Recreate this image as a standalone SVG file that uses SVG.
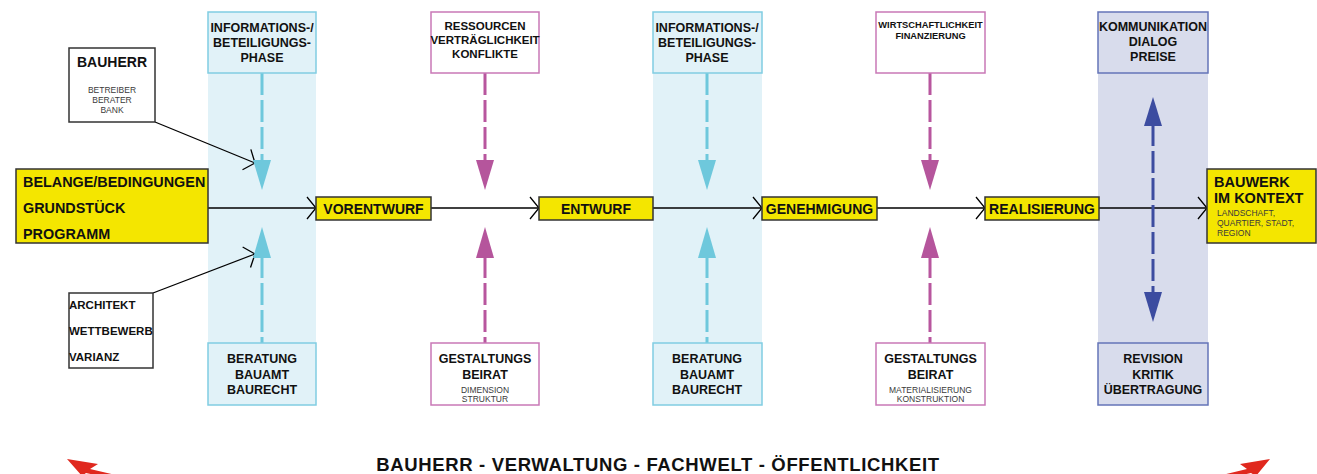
<svg xmlns="http://www.w3.org/2000/svg" width="1317" height="474" viewBox="0 0 1317 474">
<defs>
<style>
text{font-family:"Liberation Sans",Arial,sans-serif;fill:#111}
.b{font-weight:bold}
.c{text-anchor:middle}
.s{font-size:8.5px;fill:#3a3a3a}
.yel{fill:#f4e600;stroke:#333;stroke-width:1.5}
.wbox{fill:#fff;stroke:#333;stroke-width:1.5}
.cband{fill:#e1f2f8}
.cbox{fill:#e1f2f8;stroke:#80cde2;stroke-width:1.5}
.mbox{fill:#fff;stroke:#c978b6;stroke-width:1.5}
.bband{fill:#d8dcec}
.bbox{fill:#d8dcec;stroke:#6474b8;stroke-width:1.5}
.flow{stroke:#000;stroke-width:1.3;fill:none;marker-end:url(#chev)}
.dc{stroke:#6ec8dc;stroke-width:3;stroke-dasharray:22 5;fill:none}
.dm{stroke:#b8569e;stroke-width:3;stroke-dasharray:22 5;fill:none}
.db{stroke:#3c4ca0;stroke-width:3;stroke-dasharray:22 5;fill:none}
.hc{fill:#6ec8dc}
.hm{fill:#b5559c}
.hb{fill:#3c4ca0}
.red{fill:#e0281e}
</style>
<marker id="chev" markerUnits="userSpaceOnUse" markerWidth="24" markerHeight="26" refX="12" refY="13" orient="auto" overflow="visible">
<path d="M3,2 L12,13 L3,24" fill="none" stroke="#000" stroke-width="1.3"/>
</marker>
</defs>

<g id="bands">
<rect class="cband" x="208" y="12" width="108" height="393"/>
<rect class="cband" x="653" y="12" width="109" height="393"/>
<rect class="bband" x="1098" y="12" width="110" height="393"/>
</g>

<g id="connectors">
<path class="flow" d="M208,208 H316"/>
<path class="flow" d="M431,208 H539"/>
<path class="flow" d="M653,208 H762"/>
<path class="flow" d="M877,208 H985"/>
<path class="flow" d="M1099,208 H1207"/>
<path class="flow" d="M155,122 L255,163"/>
<path class="flow" d="M153,293 L255,254"/>

<path class="dc" d="M262,73 V162"/>
<polygon class="hc" points="253,160 271,160 262,190"/>
<path class="dc" d="M262,256 V343"/>
<polygon class="hc" points="253,258 271,258 262,227"/>

<path class="dm" d="M485,73 V162"/>
<polygon class="hm" points="476,160 494,160 485,190"/>
<path class="dm" d="M485,256 V343"/>
<polygon class="hm" points="476,258 494,258 485,227"/>

<path class="dc" d="M707,73 V162"/>
<polygon class="hc" points="698,160 716,160 707,190"/>
<path class="dc" d="M707,256 V343"/>
<polygon class="hc" points="698,258 716,258 707,227"/>

<path class="dm" d="M930,73 V162"/>
<polygon class="hm" points="921,160 939,160 930,190"/>
<path class="dm" d="M930,256 V343"/>
<polygon class="hm" points="921,258 939,258 930,227"/>

<path class="db" d="M1153,124 V294"/>
<polygon class="hb" points="1144,126 1162,126 1153,97"/>
<polygon class="hb" points="1144,292 1162,292 1153,322"/>
</g>

<g id="belange">
<rect class="yel" x="16" y="169" width="192" height="74"/>
<text class="b" x="23" y="187" font-size="14.4">BELANGE/BEDINGUNGEN</text>
<text class="b" x="23" y="213" font-size="14.4">GRUNDSTÜCK</text>
<text class="b" x="23" y="239" font-size="14.4">PROGRAMM</text>
</g>

<g id="bauherr">
<rect class="wbox" x="69" y="48" width="86" height="74"/>
<text class="b c" x="112" y="67" font-size="14">BAUHERR</text>
<text class="c s" x="112" y="93">BETREIBER</text>
<text class="c s" x="112" y="103">BERATER</text>
<text class="c s" x="112" y="113">BANK</text>
</g>

<g id="architekt">
<rect class="wbox" x="69" y="293" width="84" height="75"/>
<text class="b" x="69" y="309" font-size="11.5">ARCHITEKT</text>
<text class="b" x="69" y="335" font-size="11.5">WETTBEWERB</text>
<text class="b" x="69" y="361" font-size="11.5">VARIANZ</text>
</g>

<g id="info1">
<rect class="cbox" x="208" y="12" width="108" height="61"/>
<text class="b c" x="262" y="32" font-size="12.5">INFORMATIONS-/</text>
<text class="b c" x="262" y="47" font-size="12.5">BETEILIGUNGS-</text>
<text class="b c" x="262" y="62" font-size="12.5">PHASE</text>
</g>

<g id="beratung1">
<rect class="cbox" x="208" y="343" width="108" height="62"/>
<text class="b c" x="262" y="363" font-size="12.5">BERATUNG</text>
<text class="b c" x="262" y="379" font-size="12.5">BAUAMT</text>
<text class="b c" x="262" y="394" font-size="12.5">BAURECHT</text>
</g>

<g id="vorentwurf">
<rect class="yel" x="316" y="197" width="115" height="23"/>
<text class="b c" x="373.5" y="214" font-size="14">VORENTWURF</text>
</g>

<g id="ressourcen">
<rect class="mbox" x="431" y="12" width="108" height="61"/>
<text class="b c" x="485" y="30" font-size="11.5">RESSOURCEN</text>
<text class="b c" x="485" y="44" font-size="11.5">VERTRÄGLICHKEIT</text>
<text class="b c" x="485" y="58" font-size="11.5">KONFLIKTE</text>
</g>

<g id="gestaltung1">
<rect class="mbox" x="431" y="343" width="108" height="62"/>
<text class="b c" x="485" y="363" font-size="12.5">GESTALTUNGS</text>
<text class="b c" x="485" y="379" font-size="12.5">BEIRAT</text>
<text class="c s" x="485" y="393">DIMENSION</text>
<text class="c s" x="485" y="402">STRUKTUR</text>
</g>

<g id="entwurf">
<rect class="yel" x="539" y="197" width="114" height="23"/>
<text class="b c" x="596" y="214" font-size="14">ENTWURF</text>
</g>

<g id="info2">
<rect class="cbox" x="653" y="12" width="109" height="61"/>
<text class="b c" x="707" y="32" font-size="12.5">INFORMATIONS-/</text>
<text class="b c" x="707" y="47" font-size="12.5">BETEILIGUNGS-</text>
<text class="b c" x="707" y="62" font-size="12.5">PHASE</text>
</g>

<g id="beratung2">
<rect class="cbox" x="653" y="343" width="109" height="62"/>
<text class="b c" x="707" y="363" font-size="12.5">BERATUNG</text>
<text class="b c" x="707" y="379" font-size="12.5">BAUAMT</text>
<text class="b c" x="707" y="394" font-size="12.5">BAURECHT</text>
</g>

<g id="genehmigung">
<rect class="yel" x="762" y="197" width="115" height="23"/>
<text class="b c" x="819.5" y="214" font-size="14">GENEHMIGUNG</text>
</g>

<g id="wirtschaft">
<rect class="mbox" x="876" y="12" width="109" height="61"/>
<text class="b c" x="930.5" y="28" font-size="9.3">WIRTSCHAFTLICHKEIT</text>
<text class="b c" x="930.5" y="39" font-size="9.3">FINANZIERUNG</text>
</g>

<g id="gestaltung2">
<rect class="mbox" x="876" y="343" width="109" height="62"/>
<text class="b c" x="930.5" y="363" font-size="12.5">GESTALTUNGS</text>
<text class="b c" x="930.5" y="379" font-size="12.5">BEIRAT</text>
<text class="c s" x="930.5" y="393">MATERIALISIERUNG</text>
<text class="c s" x="930.5" y="402">KONSTRUKTION</text>
</g>

<g id="realisierung">
<rect class="yel" x="985" y="197" width="114" height="23"/>
<text class="b c" x="1042" y="214" font-size="14">REALISIERUNG</text>
</g>

<g id="kommunikation">
<rect class="bbox" x="1098" y="12" width="110" height="61"/>
<text class="b c" x="1153" y="31" font-size="12.5">KOMMUNIKATION</text>
<text class="b c" x="1153" y="46" font-size="12.5">DIALOG</text>
<text class="b c" x="1153" y="61" font-size="12.5">PREISE</text>
</g>

<g id="revision">
<rect class="bbox" x="1098" y="343" width="110" height="62"/>
<text class="b c" x="1153" y="363" font-size="12.5">REVISION</text>
<text class="b c" x="1153" y="379" font-size="12.5">KRITIK</text>
<text class="b c" x="1153" y="394" font-size="12.5">ÜBERTRAGUNG</text>
</g>

<g id="bauwerk">
<rect class="yel" x="1207" y="169" width="109" height="74"/>
<text class="b" x="1214" y="187" font-size="14.5">BAUWERK</text>
<text class="b" x="1214" y="203" font-size="14.5">IM KONTEXT</text>
<text class="s" x="1217" y="216">LANDSCHAFT,</text>
<text class="s" x="1217" y="226">QUARTIER, STADT,</text>
<text class="s" x="1217" y="236">REGION</text>
</g>

<g id="footer">
<text class="b c" x="658" y="471" font-size="18.5" letter-spacing="0.65">BAUHERR - VERWALTUNG - FACHWELT - ÖFFENTLICHKEIT</text>
<polygon class="red" points="67,459 98,464 90,469 120,476 118,480 86,473 82,476"/>
<polygon class="red" points="1270,459 1240,464 1247,469 1218,476 1220,480 1251,473 1256,476"/>
</g>
</svg>
